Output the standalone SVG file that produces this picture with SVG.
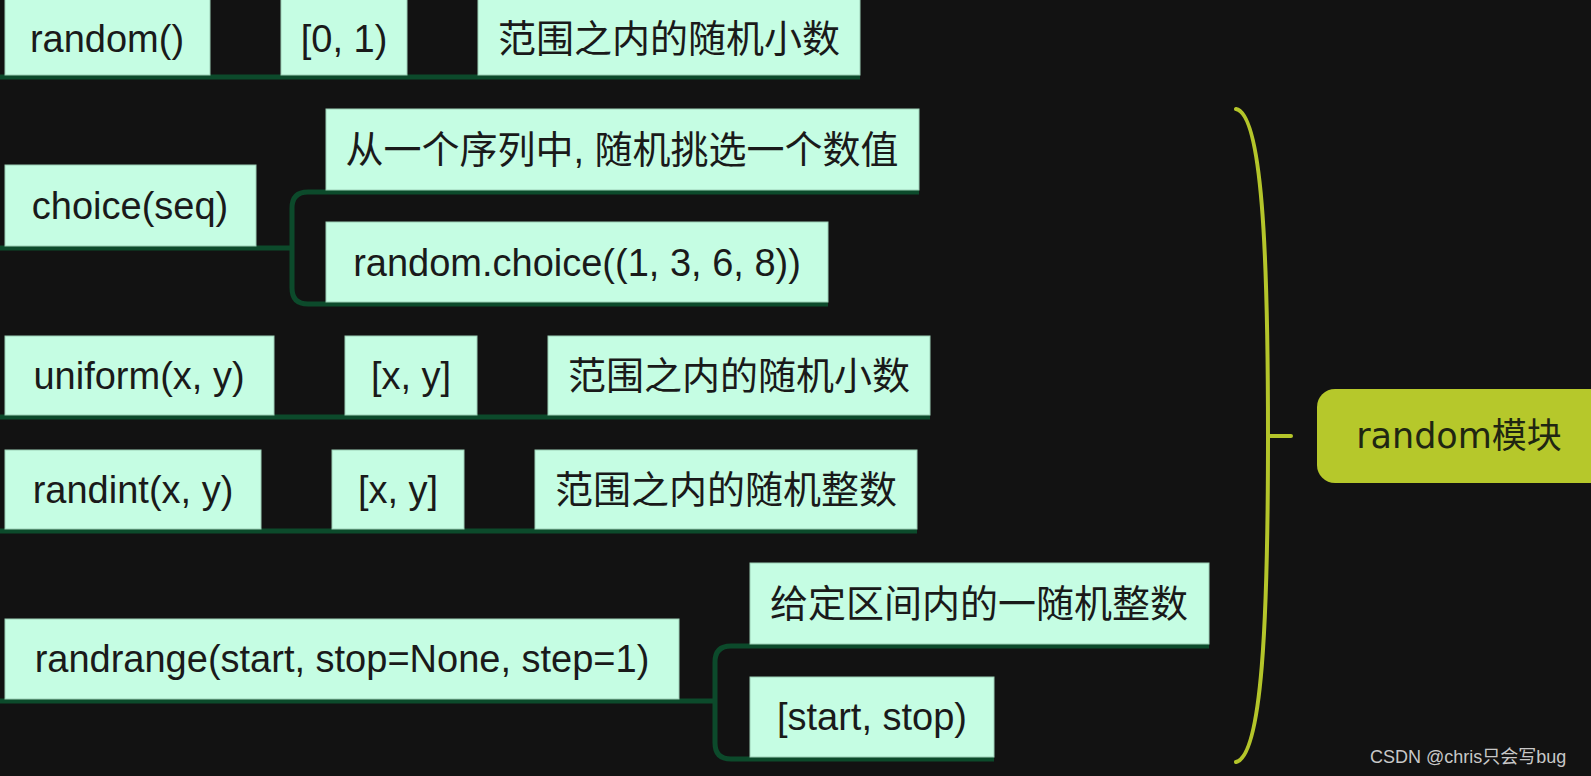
<svg xmlns="http://www.w3.org/2000/svg" width="1591" height="776" viewBox="0 0 1591 776">
<style>
.bg{fill:#121212}
.box{fill:#c5fde3;stroke:#9ccfb6;stroke-width:1}
.t{font-family:"Liberation Sans","Noto Sans CJK SC",sans-serif;font-size:38px;fill:#1a1a1a;text-anchor:middle}
.ln{fill:none;stroke:#0c4a2b;stroke-width:5}
.br{fill:none;stroke:#b4c52a;stroke-width:4;stroke-linecap:round}
.root{fill:#b6c82b}
.rt{font-family:"DejaVu Sans","Noto Sans CJK SC",sans-serif;font-size:35px;fill:#1f2612;text-anchor:middle}
.wm{font-family:"Liberation Sans","Noto Sans CJK SC",sans-serif;font-size:18px;fill:#c8c8c8}
</style>
<rect class="bg" x="0" y="0" width="1591" height="776"/>
<g id="connectors">
<path class="ln" d="M0 77 H860"/>
<path class="ln" d="M0 248 H292"/>
<path class="ln" d="M919 192 H308 Q292 192 292 208 V288 Q292 304 308 304 H828"/>
<path class="ln" d="M0 417 H930"/>
<path class="ln" d="M0 531 H917"/>
<path class="ln" d="M0 701 H715"/>
<path class="ln" d="M1209 646 H731 Q715 646 715 662 V743 Q715 759 731 759 H994"/>
<path class="br" d="M1236 109 C1262 114 1268 250 1268 436 C1268 622 1262 756 1236 762"/>
<path class="br" d="M1268 436 H1291"/>
</g>
<g id="n-random"><rect class="box" x="5" y="-6" width="205" height="81"/><text class="t" x="107" y="52">random()</text></g>
<g id="n-random-range"><rect class="box" x="281" y="-6" width="126" height="81"/><text class="t" x="344" y="52">[0, 1)</text></g>
<g id="n-random-desc"><rect class="box" x="478" y="-6" width="382" height="81"/><text class="t" x="669" y="52">范围之内的随机小数</text></g>
<g id="n-choice"><rect class="box" x="5" y="165" width="251" height="81"/><text class="t" x="130" y="219">choice(seq)</text></g>
<g id="n-choice-desc"><rect class="box" x="326" y="109" width="593" height="81"/><text class="t" x="622" y="163">从一个序列中, 随机挑选一个数值</text></g>
<g id="n-choice-ex"><rect class="box" x="326" y="222" width="502" height="80"/><text class="t" x="577" y="276">random.choice((1, 3, 6, 8))</text></g>
<g id="n-uniform"><rect class="box" x="5" y="336" width="269" height="79"/><text class="t" x="139" y="389">uniform(x, y)</text></g>
<g id="n-uniform-range"><rect class="box" x="345" y="336" width="132" height="79"/><text class="t" x="411" y="389">[x, y]</text></g>
<g id="n-uniform-desc"><rect class="box" x="548" y="336" width="382" height="79"/><text class="t" x="739" y="389">范围之内的随机小数</text></g>
<g id="n-randint"><rect class="box" x="5" y="450" width="256" height="79"/><text class="t" x="133" y="503">randint(x, y)</text></g>
<g id="n-randint-range"><rect class="box" x="332" y="450" width="132" height="79"/><text class="t" x="398" y="503">[x, y]</text></g>
<g id="n-randint-desc"><rect class="box" x="535" y="450" width="382" height="79"/><text class="t" x="726" y="503">范围之内的随机整数</text></g>
<g id="n-randrange"><rect class="box" x="5" y="619" width="674" height="80"/><text class="t" x="342" y="672">randrange(start, stop=None, step=1)</text></g>
<g id="n-randrange-desc"><rect class="box" x="750" y="563" width="459" height="81"/><text class="t" x="979" y="617">给定区间内的一随机整数</text></g>
<g id="n-randrange-range"><rect class="box" x="750" y="677" width="244" height="80"/><text class="t" x="872" y="730">[start, stop)</text></g>
<g id="n-root"><rect class="root" x="1317" y="389" width="300" height="94" rx="18"/><text class="rt" x="1459" y="448">random模块</text></g>
<text class="wm" x="1370" y="763">CSDN @chris只会写bug</text>
</svg>
